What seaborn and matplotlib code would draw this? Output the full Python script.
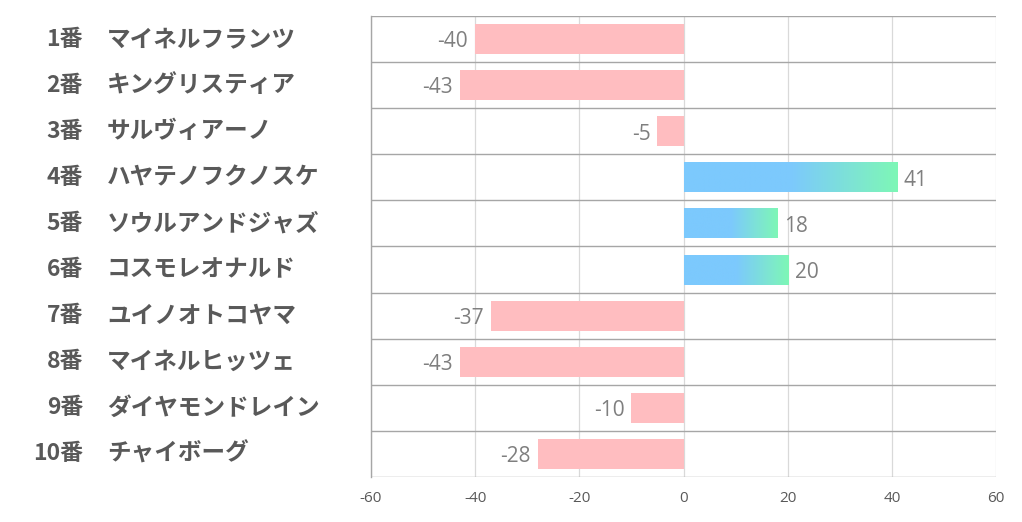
import numpy as np
import pandas as pd
import matplotlib
matplotlib.use("Agg")
import matplotlib.pyplot as plt
from matplotlib.colors import LinearSegmentedColormap
import matplotlib.transforms as mtransforms
import seaborn as sns

numbers = ["1番", "2番", "3番", "4番", "5番", "6番", "7番", "8番", "9番", "10番"]
names = ["マイネルフランツ", "キングリスティア", "サルヴィアーノ", "ハヤテノフクノスケ",
         "ソウルアンドジャズ", "コスモレオナルド", "ユイノオトコヤマ", "マイネルヒッツェ",
         "ダイヤモンドレイン", "チャイボーグ"]
values = [-40, -43, -5, 41, 18, 20, -37, -43, -10, -28]
xticks = [-60, -40, -20, 0, 20, 40, 60]

sns.set_theme(style="white")
plt.rcParams['font.family'] = ['Noto Sans CJK JP', 'DejaVu Sans']

df = pd.DataFrame({"label": [f"{n}{m}" for n, m in zip(numbers, names)], "value": values})

fig = plt.figure(figsize=(10.22, 5.22), dpi=100)
ax = fig.add_axes([371/1022, 1-477/522, (996-371)/1022, (477-16)/522])

neg_color = "#ffbdc0"
colors = [neg_color if v < 0 else "#7cc9fd" for v in values]
sns.barplot(data=df, x="value", y="label", hue="label", palette=colors, legend=False,
            orient="h", width=0.65, ax=ax, saturation=1)

ax.set_xlim(xticks[0], xticks[-1])
ax.set_ylim(len(values) - 0.5, -0.5)

# gradient for positive bars
cmap = LinearSegmentedColormap.from_list("g", [(0, "#7cc9fd"), (0.5, "#7cc9fd"), (1, "#7ef7b6")])
grad = np.linspace(0, 1, 256).reshape(1, -1)
for p, v in zip(ax.patches, values):
    p.set_edgecolor("none")
    if v > 0:
        x0, y0, w, h = p.get_x(), p.get_y(), p.get_width(), p.get_height()
        im = ax.imshow(grad, cmap=cmap, aspect="auto", extent=[x0, x0 + w, y0 + h, y0],
                       zorder=p.get_zorder() + 0.1, interpolation="bilinear")
        im.set_clip_path(p)
        p.set_facecolor("none")

# grid lines
for x in xticks:
    ax.axvline(x, color="#d9d9d9", lw=0.9, zorder=0)
for i in range(len(values) + 1):
    ax.axhline(i - 0.5, color="#a6a6a6", lw=1.0, zorder=0.5)

for s in ["top", "right", "bottom"]:
    ax.spines[s].set_visible(False)
ax.spines["left"].set_color("#a6a6a6")
ax.spines["left"].set_linewidth(1.0)

ax.set_xticks(xticks)
ax.set_xticklabels([str(t) for t in xticks], color="#595959", fontsize=11,
                   family=["Open Sans", "DejaVu Sans"])
ax.tick_params(axis="x", length=0, pad=10)
ax.set_yticks([])
ax.set_xlabel("")
ax.set_ylabel("")

# value labels
for i, v in enumerate(values):
    ax.annotate(str(v), xy=(v, i), xytext=(-5 if v < 0 else 5, -2), textcoords="offset points",
                ha="right" if v < 0 else "left", va="center", color="#7f7f7f", fontsize=15,
                family=["Open Sans", "DejaVu Sans"])

# row labels
trans_lbl = mtransforms.blended_transform_factory(fig.transFigure, ax.transData)
for i, (n, m) in enumerate(zip(numbers, names)):
    ax.text(83/1022, i, n, transform=trans_lbl, ha="right", va="center",
            fontsize=16.5, fontweight="bold", color="#595959")
    ax.text(107/1022, i, m, transform=trans_lbl, ha="left", va="center",
            fontsize=17, fontweight="bold", color="#595959")

fig.savefig("out.png", dpi=100)
